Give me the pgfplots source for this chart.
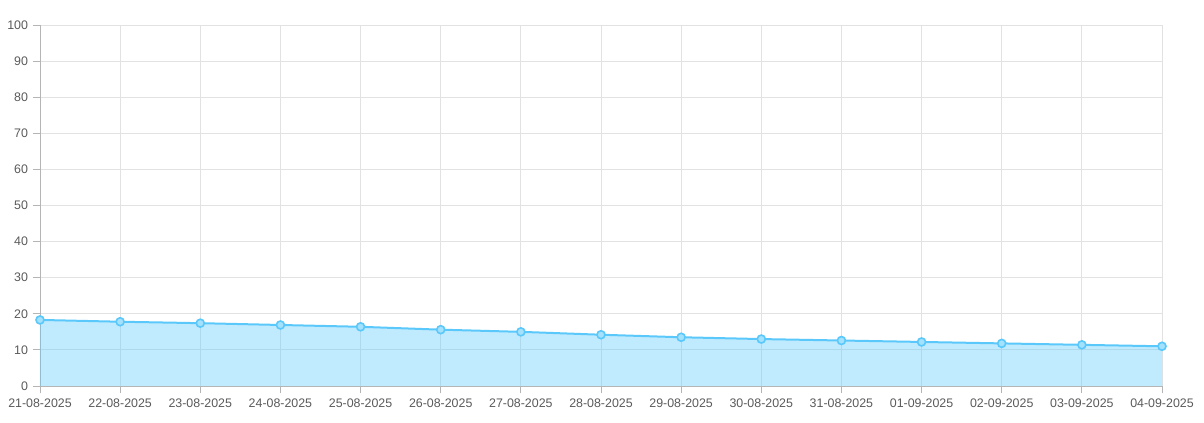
\documentclass[border=0pt]{standalone}
\usepackage{fontspec}
\setmainfont{Liberation Sans}
\usepackage{pgfplots}
\pgfplotsset{compat=1.18}
\definecolor{lineblue}{HTML}{5AC8FA}
\definecolor{gridgray}{HTML}{E2E2E2}
\definecolor{labgray}{HTML}{5A5A5A}

\begin{document}
\begin{tikzpicture}[x=0.75pt,y=0.75pt]
\useasboundingbox (-40,-37) rectangle (1164,386);
\begin{axis}[
  at={(0,0)}, anchor=south west,
  scale only axis,
  width=841.5pt, height=270.75pt,
  xmin=0, xmax=14, ymin=0, ymax=100,
  xtick={0,...,14},
  xticklabels={21-08-2025,22-08-2025,23-08-2025,24-08-2025,25-08-2025,26-08-2025,27-08-2025,28-08-2025,29-08-2025,30-08-2025,31-08-2025,01-09-2025,02-09-2025,03-09-2025,04-09-2025},
  ytick={0,10,...,100},
  grid=major,
  major grid style={gridgray, line width=0.6pt},
  axis line style={draw=gridgray!80!black, line width=0.6pt},
  axis x line*=bottom, axis y line*=left,
  tick style={gridgray!80!black, line width=0.6pt},
  tick align=outside, major tick length=5.5pt,
  tick label style={font=\fontsize{9.3}{11}\selectfont, text=labgray},
  /pgf/number format/assume math mode=true,
  xticklabel style={yshift=-0.5pt},
  clip=false,
]
\addplot[draw=none, fill=lineblue, fill opacity=0.38] coordinates {
(0,18.3) (1,17.8) (2,17.4) (3,16.9) (4,16.4) (5,15.6) (6,15.0) (7,14.2)
(8,13.5) (9,13.0) (10,12.6) (11,12.2) (12,11.8) (13,11.4) (14,11.0)
} \closedcycle;
\addplot[lineblue, line width=1.5pt, mark=*, mark size=3pt,
  mark options={fill=lineblue!55, draw=lineblue, line width=1.2pt}] coordinates {
(0,18.3) (1,17.8) (2,17.4) (3,16.9) (4,16.4) (5,15.6) (6,15.0) (7,14.2)
(8,13.5) (9,13.0) (10,12.6) (11,12.2) (12,11.8) (13,11.4) (14,11.0)
};
\end{axis}
\end{tikzpicture}
\end{document}
